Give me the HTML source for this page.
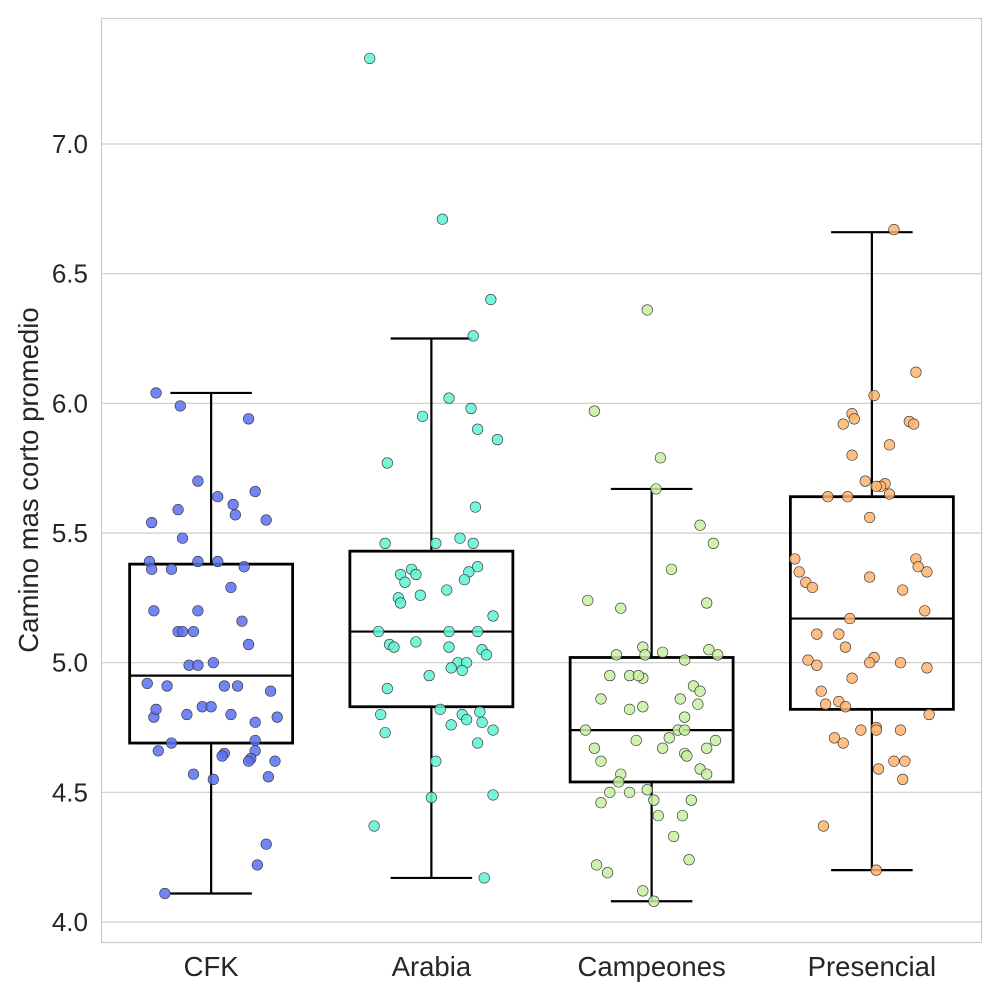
<!DOCTYPE html>
<html><head><meta charset="utf-8"><style>
html,body{margin:0;padding:0;background:#fff;}
svg{display:block;font-family:"Liberation Sans",Arial,sans-serif;}
</style></head><body>
<svg id="chart" width="1000" height="1000" viewBox="0 0 1000 1000">
<rect x="0" y="0" width="1000" height="1000" fill="#fff"/>
<g id="grid"></g>
<rect x="101.5" y="18.5" width="880" height="924" fill="none" stroke="#cccccc" stroke-width="1.2"/>
<g id="boxes"></g>
<g id="points"></g>
<g id="yticks"></g>
<g id="xticks"></g>
<text x="38" y="480" transform="rotate(-90 38 480)" text-anchor="middle" font-size="27.5" fill="#262626">Camino mas corto promedio</text>
</svg>
<script>
const categories = ["CFK","Arabia","Campeones","Presencial"];
const colors = ["#5b70f3","#5ef3d3","#c8f0a2","#ffb46e"];
const yTicks = [4.0,4.5,5.0,5.5,6.0,6.5,7.0];
const whiskerLo = [4.11,4.17,4.08,4.20];
const q1 = [4.69,4.83,4.54,4.82];
const medians = [4.95,5.12,4.74,5.17];
const q3 = [5.38,5.43,5.02,5.64];
const whiskerHi = [6.04,6.25,5.67,6.66];
const cfkVals = [6.04,5.99,5.94,5.70,5.64,5.61,5.66,5.57,5.59,5.54,5.55,5.48,5.39,5.36,5.36,5.39,5.39,5.37,5.29,5.16,5.20,5.20,5.12,5.12,5.12,5.07,5.00,4.99,4.99,4.92,4.91,4.91,4.91,4.89,4.83,4.83,4.80,4.80,4.79,4.79,4.82,4.77,4.69,4.70,4.66,4.66,4.65,4.64,4.63,4.62,4.62,4.57,4.56,4.55,4.30,4.22,4.11];
const cfkJit = [-.25,-.14,.17,-.06,.03,.10,.20,.11,-.15,-.27,.25,-.13,-.28,-.27,-.18,-.06,.03,.15,.09,.14,-.26,-.06,-.08,-.15,-.13,.17,.01,-.10,-.06,-.29,-.20,.06,.12,.27,-.04,.00,-.11,.09,.30,-.26,-.25,.20,-.18,.20,-.24,.20,.06,.05,.18,.17,.29,-.08,.26,.01,.25,.21,-.21];
const arabiaVals = [7.33,6.71,6.40,6.26,6.02,5.98,5.95,5.90,5.86,5.77,5.60,5.48,5.46,5.46,5.46,5.36,5.37,5.34,5.34,5.35,5.31,5.32,5.28,5.25,5.26,5.23,5.18,5.12,5.12,5.12,5.07,5.08,5.06,5.06,5.05,5.03,5.00,5.00,4.98,4.97,4.95,4.90,4.80,4.82,4.80,4.81,4.78,4.77,4.76,4.73,4.74,4.69,4.62,4.49,4.48,4.37,4.17];
const arabiaJit = [-.28,.05,.27,.19,.08,.18,-.04,.21,.30,-.20,.20,.13,-.21,.02,.19,-.09,.21,-.07,-.14,.17,-.12,.15,.07,-.15,-.05,-.14,.28,-.24,.08,.21,-.19,-.07,-.17,.08,.23,.25,.12,.16,.09,.14,-.01,-.20,-.23,.04,.14,.22,.16,.23,.09,-.21,.28,.21,.02,.28,.00,-.26,.24];
const campVals = [6.36,5.97,5.79,5.67,5.53,5.46,5.36,5.24,5.23,5.21,5.06,5.05,5.03,5.03,5.04,5.01,5.03,4.94,4.95,4.95,4.95,4.91,4.89,4.86,4.86,4.84,4.83,4.82,4.79,4.74,4.74,4.74,4.70,4.71,4.70,4.67,4.67,4.67,4.65,4.64,4.62,4.59,4.57,4.57,4.54,4.50,4.50,4.51,4.47,4.47,4.46,4.41,4.41,4.33,4.24,4.22,4.19,4.12,4.08];
const campJit = [-.02,-.26,.04,.02,.22,.28,.09,-.29,.25,-.14,-.04,.26,-.16,-.03,.05,.15,.30,-.04,-.10,-.06,-.19,.19,.22,-.23,.13,.21,-.04,-.10,.15,-.30,.12,.15,.29,.08,-.07,.05,.25,-.26,.15,.16,-.23,.22,.25,-.14,-.15,-.19,-.10,-.02,.01,.18,-.23,.03,.14,.10,.17,-.25,-.20,-.04,.01];
const presVals = [6.67,6.12,6.03,5.96,5.93,5.92,5.92,5.94,5.84,5.80,5.70,5.69,5.68,5.68,5.64,5.64,5.65,5.56,5.40,5.40,5.37,5.35,5.35,5.33,5.31,5.29,5.28,5.20,5.17,5.11,5.11,5.06,5.01,5.02,4.99,5.00,5.00,4.98,4.94,4.89,4.85,4.84,4.83,4.80,4.71,4.69,4.75,4.74,4.74,4.74,4.62,4.62,4.59,4.55,4.37,4.20];
const presJit = [.10,.20,.01,-.09,.17,.19,-.13,-.08,.08,-.09,-.03,.06,.04,.02,-.20,-.11,.08,-.01,-.35,.20,.21,.25,-.33,-.01,-.30,-.27,.14,.24,-.10,-.25,-.15,-.12,-.29,.01,-.25,-.01,.13,.25,-.09,-.23,-.15,-.21,-.12,.26,-.17,-.13,.02,.02,-.05,.13,.10,.15,.03,.14,-.22,.02];
const seriesVals = [cfkVals, arabiaVals, campVals, presVals];
const seriesJit = [cfkJit, arabiaJit, campJit, presJit];

const NS = "http://www.w3.org/2000/svg";
const X0 = 101, X1 = 982, Y0 = 18, Y1 = 942;
const step = (X1 - X0) / categories.length;
function xScale(i){ return X0 + step * (i + 0.5); }
function yScale(v){ return 922 - (v - 4) * (778 / 3); }
function mk(tag, attrs, parent){ const e = document.createElementNS(NS, tag); for (const k in attrs) e.setAttribute(k, attrs[k]); parent.appendChild(e); return e; }

const grid = document.getElementById('grid'), yt = document.getElementById('yticks'), xt = document.getElementById('xticks');
yTicks.forEach(t => {
  const l = mk('line', {x1:X0, x2:X1, y1:yScale(t), y2:yScale(t), stroke:'#cccccc', 'stroke-width':1.2}, grid);
  
  
  const tx = mk('text', {x:88, y:yScale(t)+9, 'text-anchor':'end', 'font-size':26, fill:'#262626'}, yt);
  tx.textContent = t.toFixed(1);
  
  
});
categories.forEach((c, i) => {
  const tx = mk('text', {x:xScale(i), y:976, 'text-anchor':'middle', 'font-size':27.5, fill:'#262626'}, xt);
  tx.textContent = c;
  
  
});
const pts = document.getElementById('points');
seriesVals.forEach((vals, i) => {
  vals.forEach((v, j) => {
    const p = mk('circle', {cx:xScale(i) + seriesJit[i][j] * step, cy:yScale(v), r:5.3, fill:colors[i], 'fill-opacity':0.85, stroke:'#333', 'stroke-width':0.6}, pts);
    
    
  });
});
const boxes = document.getElementById('boxes');
const bw = step * 0.74, cap = step * 0.37;
categories.forEach((c, i) => {
  const cx = xScale(i);
  const g = mk('g', {}, boxes);
  
  
  const st = {stroke:'#000', 'stroke-width':2.2, fill:'none'};
  mk('line', Object.assign({x1:cx, x2:cx, y1:yScale(whiskerHi[i]), y2:yScale(q3[i])}, st), g);
  mk('line', Object.assign({x1:cx, x2:cx, y1:yScale(q1[i]), y2:yScale(whiskerLo[i])}, st), g);
  mk('line', Object.assign({x1:cx-cap/2, x2:cx+cap/2, y1:yScale(whiskerHi[i]), y2:yScale(whiskerHi[i])}, st), g);
  mk('line', Object.assign({x1:cx-cap/2, x2:cx+cap/2, y1:yScale(whiskerLo[i]), y2:yScale(whiskerLo[i])}, st), g);
  mk('rect', {x:cx-bw/2, y:yScale(q3[i]), width:bw, height:yScale(q1[i])-yScale(q3[i]), fill:'none', stroke:'#000', 'stroke-width':2.8}, g);
  mk('line', Object.assign({x1:cx-bw/2, x2:cx+bw/2, y1:yScale(medians[i]), y2:yScale(medians[i])}, st), g);
});
</script>
</body></html>
